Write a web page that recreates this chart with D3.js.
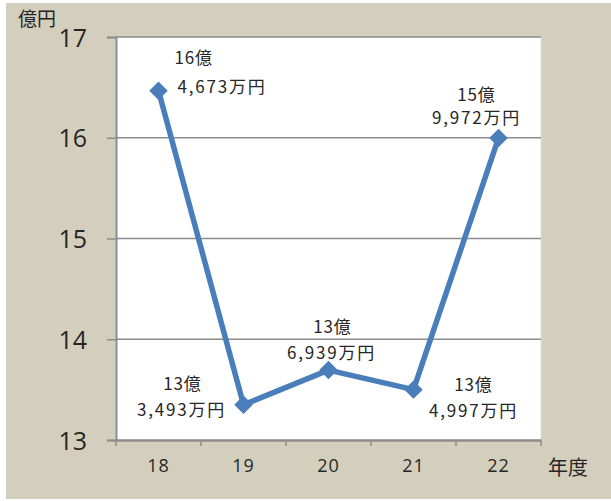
<!DOCTYPE html>
<html>
<head>
<meta charset="utf-8">
<script src="https://cdn.jsdelivr.net/npm/d3@7"></script>
<style>
  body { margin: 0; background: #fff; }
  text { font-family: "Noto Sans CJK JP", "Noto Sans", sans-serif; fill: #262626; }
</style>
</head>
<body>
<div class="chart"></div>
<script>
var w = 611;
var h = 501;
var margin = {top: 37, right: 70, bottom: 61, left: 116};

// data
var years = ["18", "19", "20", "21", "22"];
var values = [16.4673, 13.3493, 13.6939, 13.4997, 15.9972];
var labelTop = ["16億", "13億", "13億", "13億", "15億"];
var labelBottom = ["4,673万円", "3,493万円", "6,939万円", "4,997万円", "9,972万円"];
var yTicks = [13, 14, 15, 16, 17];

// where each label sits relative to its point
var labelPos = [
  {dx: 16, dy: -27, dx2: 19, dy2: 2, anchor: "start"},
  {dx: -61, dy: -15, dx2: -62, dy2: 11, anchor: "middle"},
  {dx: 4, dy: -37, dx2: 3, dy2: -11, anchor: "middle"},
  {dx: 60, dy: 1, dx2: 60, dy2: 27, anchor: "middle"},
  {dx: -22, dy: -37, dx2: -22, dy2: -14, anchor: "middle"}
];

var svg = d3.select(".chart")
  .append("svg")
  .attr("width", w)
  .attr("height", h);

// background
svg.append("rect")
  .attr("x", 6).attr("y", 3)
  .attr("width", w - 6).attr("height", h - 5)
  .attr("fill", "#d4cfbd");

var x = d3.scaleBand()
  .domain(years)
  .range([margin.left, w - margin.right]);

var y = d3.scaleLinear()
  .domain([13, 17])
  .range([h - margin.bottom, margin.top]);

// plot area
svg.append("rect")
  .attr("x", margin.left)
  .attr("y", margin.top)
  .attr("width", w - margin.left - margin.right)
  .attr("height", h - margin.top - margin.bottom)
  .attr("fill", "#fff")
  .attr("stroke", "#e0e0e0")
  .attr("stroke-width", 1);

// grid
svg.selectAll(".grid")
  .data(yTicks.slice(1))
  .enter()
  .append("line")
  .attr("x1", margin.left)
  .attr("x2", w - margin.right)
  .attr("y1", d => y(d))
  .attr("y2", d => y(d))
  .attr("stroke", "#8c8c8c")
  .attr("stroke-width", 1.5);

// y axis
var yAxis = svg.append("g")
  .attr("transform", "translate(" + margin.left + ",0)")
  .call(d3.axisLeft(y).tickValues(yTicks).tickSize(9).tickPadding(20).tickFormat(d3.format("d")));
yAxis.select(".domain").attr("stroke", "#8c8c8c").attr("stroke-width", 2);
yAxis.selectAll(".tick line").attr("stroke", "#8c8c8c").attr("stroke-width", 1.5);
yAxis.selectAll("text")
  .style("font-family", "'Open Sans', sans-serif")
  .style("font-size", "25px")
  .attr("fill", "#262626")
  .attr("dy", "0.36em");

// x axis
var xAxis = svg.append("g")
  .attr("transform", "translate(0," + (h - margin.bottom) + ")")
  .call(d3.axisBottom(x).tickSize(0).tickPadding(19));
xAxis.select(".domain").attr("stroke", "#8c8c8c").attr("stroke-width", 2.5);
xAxis.selectAll("text")
  .style("font-family", "'Open Sans', sans-serif")
  .style("font-size", "18px")
  .style("letter-spacing", "1px")
  .attr("fill", "#262626");

// x tick marks at category boundaries
var bounds = years.map(d => x(d)).concat([x(years[years.length - 1]) + x.bandwidth()]);
svg.selectAll(".xtick")
  .data(bounds)
  .enter()
  .append("line")
  .attr("x1", d => d).attr("x2", d => d)
  .attr("y1", h - margin.bottom)
  .attr("y2", h - margin.bottom + 6)
  .attr("stroke", "#8c8c8c")
  .attr("stroke-width", 1.5);

// unit labels
svg.append("text")
  .attr("x", 18).attr("y", 26)
  .style("font-size", "19px")
  .attr("fill", "#333")
  .text("億円");

svg.append("text")
  .attr("x", 548).attr("y", 475)
  .style("font-size", "20px")
  .text("年度");

// line
var cx = d => x(d) + x.bandwidth() / 2;
var line = d3.line()
  .x((d, i) => cx(years[i]))
  .y(d => y(d));

svg.append("path")
  .datum(values)
  .attr("d", line)
  .attr("fill", "none")
  .attr("stroke", "#4a7ebb")
  .attr("stroke-width", 5.5)
  .attr("stroke-linejoin", "round");

// markers
svg.selectAll(".marker")
  .data(values)
  .enter()
  .append("path")
  .attr("d", d3.symbol(d3.symbolSquare, 170))
  .attr("transform", (d, i) => "translate(" + cx(years[i]) + "," + y(d) + ") rotate(45)")
  .attr("fill", "#4a7ebb");

// data labels
var labels = svg.selectAll(".lbl")
  .data(values)
  .enter()
  .append("g")
  .attr("transform", (d, i) => "translate(" + cx(years[i]) + "," + y(d) + ")");

labels.append("text")
  .attr("x", (d, i) => labelPos[i].dx)
  .attr("y", (d, i) => labelPos[i].dy)
  .attr("text-anchor", (d, i) => labelPos[i].anchor)
  .style("font-size", "17px")
  .style("letter-spacing", "0.8px")
  .text((d, i) => labelTop[i]);

labels.append("text")
  .attr("x", (d, i) => labelPos[i].dx2)
  .attr("y", (d, i) => labelPos[i].dy2)
  .attr("text-anchor", (d, i) => labelPos[i].anchor)
  .style("font-size", "17px")
  .style("letter-spacing", "1.8px")
  .text((d, i) => labelBottom[i]);
</script>
</body>
</html>
